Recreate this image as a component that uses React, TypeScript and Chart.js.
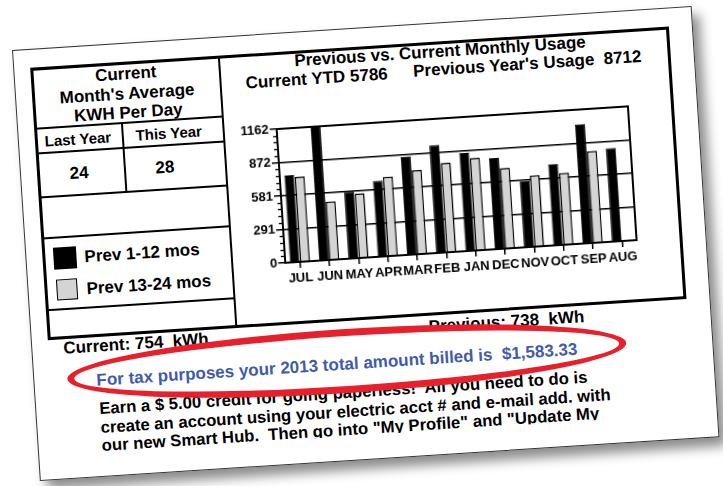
import React, { useEffect, useRef } from "react";
import { Chart, registerables } from "chart.js";

Chart.register(...registerables);

// ---- data ----
const MONTHS = ["JUL", "JUN", "MAY", "APR", "MAR", "FEB", "JAN", "DEC", "NOV", "OCT", "SEP", "AUG"];
const SERIES_LABELS = ["Prev 1-12 mos", "Prev 13-24 mos"];
const PREV_1_12 = [754, 1162, 578, 656, 852, 935, 849, 790, 575, 705, 1035, 810];
const PREV_13_24 = [738, 505, 560, 687, 728, 777, 802, 699, 618, 622, 795, null];
const Y_MAX = 1162;
const Y_MAJOR_TICKS = [0, 290.5, 581, 871.5, 1162];
const Y_TICK_LABELS = ["0", "291", "581", "872", "1162"];
const MINOR_PER_MAJOR = 4;

const FONT = '"Liberation Sans", Arial, Helvetica, sans-serif';

function UsageChart() {
  const ref = useRef<HTMLCanvasElement>(null);
  useEffect(() => {
    if (!ref.current) return;
    const font = { family: FONT, weight: "bold" as const, size: 13 };
    const framePlugin = {
      id: "frame",
      afterDraw(chart: any) {
        const { ctx, chartArea: a, scales } = chart;
        const y = scales.y;
        ctx.save();
        ctx.strokeStyle = "#000";
        ctx.lineWidth = 1.3;
        for (let i = 0; i < Y_MAJOR_TICKS.length - 1; i++) {
          const step = (Y_MAJOR_TICKS[i + 1] - Y_MAJOR_TICKS[i]) / (MINOR_PER_MAJOR + 1);
          for (let k = 1; k <= MINOR_PER_MAJOR; k++) {
            const py = Math.round(y.getPixelForValue(Y_MAJOR_TICKS[i] + k * step)) + 0.5;
            ctx.beginPath();
            ctx.moveTo(a.left - 4, py);
            ctx.lineTo(a.left, py);
            ctx.stroke();
          }
        }
        ctx.lineWidth = 2;
        ctx.strokeRect(a.left, a.top, a.right - a.left, a.bottom - a.top);
        ctx.restore();
      },
    };
    const chart = new Chart(ref.current, {
      type: "bar",
      data: {
        labels: MONTHS,
        datasets: [
          { label: SERIES_LABELS[0], data: PREV_1_12, backgroundColor: "#000", borderColor: "#000", borderWidth: 1 },
          { label: SERIES_LABELS[1], data: PREV_13_24 as any, backgroundColor: "#d4d4d4", borderColor: "#000", borderWidth: 1.5 },
        ],
      },
      options: {
        animation: false,
        responsive: false,
        maintainAspectRatio: false,
        layout: { padding: { top: 10, right: 15, left: 0, bottom: 0 } },
        plugins: { legend: { display: false }, tooltip: { enabled: false }, title: { display: false } },
        datasets: { bar: { categoryPercentage: 0.7, barPercentage: 0.98 } },
        scales: {
          x: {
            grid: { display: true, drawOnChartArea: false, offset: false, color: "#000", tickLength: 6, lineWidth: 1.5 },
            border: { display: true, color: "#000", width: 2 },
            ticks: { autoSkip: false, maxRotation: 0, minRotation: 0, padding: 3, color: "#000", font },
            afterFit: (s: any) => { s.height = 36; },
          },
          y: {
            min: 0,
            max: Y_MAX,
            afterBuildTicks: (s: any) => { s.ticks = Y_MAJOR_TICKS.map((v) => ({ value: v })); },
            grid: { color: "#000", lineWidth: 1.5, tickLength: 7 },
            border: { display: true, color: "#000", width: 2 },
            ticks: { padding: 1, color: "#000", font, callback: (_v: any, i: number) => Y_TICK_LABELS[i] },
            afterFit: (s: any) => { s.width = 43; },
          },
        },
      } as any,
      plugins: [framePlugin],
    });
    return () => chart.destroy();
  }, []);
  return (
    <canvas
      ref={ref}
      width={410}
      height={180}
      style={{ position: "absolute", left: 215, top: 85, width: 410, height: 180 }}
    />
  );
}

function HLine({ x1, x2, y, w = 2 }: { x1: number; x2: number; y: number; w?: number }) {
  return <div style={{ position: "absolute", left: x1, top: y - w / 2, width: x2 - x1, height: w, background: "#000" }} />;
}
function VLine({ x, y1, y2, w = 2 }: { x: number; y1: number; y2: number; w?: number }) {
  return <div style={{ position: "absolute", left: x - w / 2, top: y1, width: w, height: y2 - y1, background: "#000" }} />;
}
function Txt({ x, y, size = 17, center = false, color = "#000", children }: any) {
  return (
    <div
      style={{
        position: "absolute",
        left: x,
        top: y,
        fontSize: size,
        lineHeight: 1,
        color,
        whiteSpace: "pre",
        transform: `translate(${center ? "-50%" : "0"}, -50%)`,
      }}
    >
      {children}
    </div>
  );
}

export default function App() {
  return (
    <div style={{ position: "absolute", left: 0, top: 0, width: 723, height: 486, overflow: "hidden", background: "#fff" }}>
      <div
        style={{
          position: "absolute",
          left: 12,
          top: 50,
          width: 681,
          height: 432,
          background: "#fff",
          border: "1px solid #333",
          boxSizing: "border-box",
          boxShadow: "7px 9px 12px rgba(0,0,0,0.45)",
          transform: "rotate(-3.7deg)",
          transformOrigin: "0 0",
          fontFamily: FONT,
          fontWeight: "bold",
          color: "#000",
        }}
      >
        {/* outer frame */}
        <div style={{ position: "absolute", left: 16, top: 18, width: 640, height: 273, border: "3px solid #000", boxSizing: "border-box" }} />
        <VLine x={205} y1={19} y2={290} />
        <HLine x1={17} x2={205} y={79} />
        <HLine x1={17} x2={205} y={104} />
        <HLine x1={17} x2={205} y={148} />
        <HLine x1={17} x2={205} y={189} />
        <HLine x1={17} x2={205} y={261} />
        <VLine x={104} y1={79} y2={148} />

        {/* left panel text */}
        <Txt x={111} y={30} center>Current</Txt>
        <Txt x={111} y={49.5} center>Month's Average</Txt>
        <Txt x={111} y={69} center>KWH Per Day</Txt>
        <Txt x={59} y={92} size={15} center>Last Year</Txt>
        <Txt x={150} y={92} size={15} center>This Year</Txt>
        <Txt x={58} y={126} center>24</Txt>
        <Txt x={144} y={126} center>28</Txt>
        <div style={{ position: "absolute", left: 27, top: 199, width: 23, height: 22, background: "#000" }} />
        <div style={{ position: "absolute", left: 28, top: 231, width: 21, height: 21, background: "#d4d4d4", border: "1.5px solid #000", boxSizing: "border-box" }} />
        <Txt x={58} y={210}>{SERIES_LABELS[0]}</Txt>
        <Txt x={58} y={242}>{SERIES_LABELS[1]}</Txt>

        {/* chart panel */}
        <Txt x={280} y={28}>Previous vs. Current Monthly Usage</Txt>
        <Txt x={230} y={47}>Current YTD 5786</Txt>
        <Txt x={398} y={46}>{"Previous Year's Usage  8712"}</Txt>
        <UsageChart />

        {/* bottom */}
        <Txt x={31} y={300}>{"Current: 754  kWh"}</Txt>
        <Txt x={397} y={302}>{"Previous: 738  kWh"}</Txt>
        <div
          style={{
            position: "absolute",
            left: 63,
            top: 354,
            width: 570,
            height: 51.5,
            overflow: "hidden",
            fontSize: 16.7,
            lineHeight: "18.5px",
            whiteSpace: "pre",
          }}
        >
          {"Earn a $ 5.00 credit for going paperless!  All you need to do is\ncreate an account using your electric acct # and e-mail add. with\nour new Smart Hub.  Then go into \"My Profile\" and \"Update My"}
        </div>
        <div
          style={{
            position: "absolute",
            left: 33,
            top: 299,
            width: 560,
            height: 64,
            border: "7px solid #e8202c",
            borderRadius: "50%",
            background: "#fff",
            boxSizing: "border-box",
          }}
        />
        <Txt x={62} y={334} color="#3f5cab">{"For tax purposes your 2013 total amount billed is  $1,583.33"}</Txt>
      </div>
    </div>
  );
}
